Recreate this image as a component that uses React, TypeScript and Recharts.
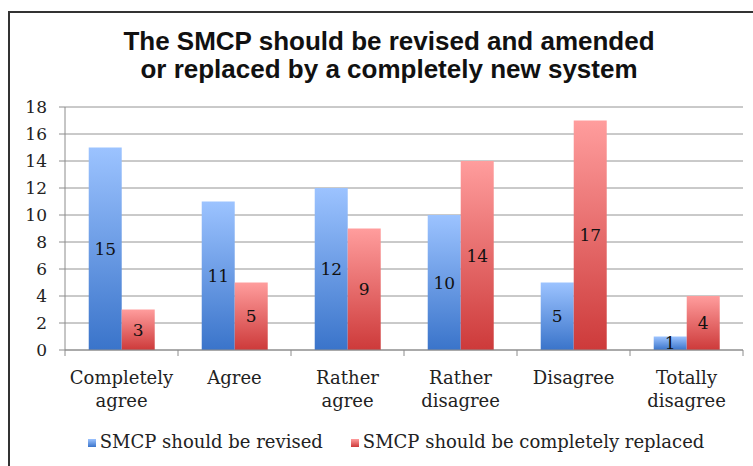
import { BarChart, Bar, XAxis, YAxis, CartesianGrid, Legend, LabelList } from 'recharts'

// answers per category
const categories = ['Completely agree', 'Agree', 'Rather agree', 'Rather disagree', 'Disagree', 'Totally disagree']
const tickLines = [['Completely', 'agree'], ['Agree'], ['Rather', 'agree'], ['Rather', 'disagree'], ['Disagree'], ['Totally', 'disagree']]
const revised = [15, 11, 12, 10, 5, 1]
const replaced = [3, 5, 9, 14, 17, 4]
const yTicks = [0, 2, 4, 6, 8, 10, 12, 14, 16, 18]
const seriesOrder = ['revised', 'replaced']

const data = categories.map((c, i) => ({
  name: c,
  revised: revised[i],
  replaced: replaced[i],
}))

const serif = '"DejaVu Serif", serif'

function CategoryTick(props: any) {
  const { x, y, payload, index } = props
  const half = payload.offset ?? 56.5
  const lines = tickLines[index] || [payload.value]
  return (
    <g>
      <line x1={x - half} x2={x - half} y1={y} y2={y + 6} stroke="#8c8c8c" />
      {index === categories.length - 1 && (
        <line x1={x + half} x2={x + half} y1={y} y2={y + 6} stroke="#8c8c8c" />
      )}
      {lines.map((l: string, i: number) => (
        <text key={i} x={x} y={y + 34 + i * 23} textAnchor="middle" fill="#222" fontSize={18} fontFamily={serif}>
          {l}
        </text>
      ))}
    </g>
  )
}

export default function App() {
  return (
    <div style={{ position: 'absolute', left: 0, top: 0, width: 753, height: 466, background: '#fff', overflow: 'hidden' }}>
      <div
        style={{
          position: 'absolute',
          left: 8,
          top: 11,
          width: 760,
          height: 470,
          borderLeft: '2px solid #333',
          borderTop: '2px solid #333',
        }}
      />
      <div
        style={{
          position: 'absolute',
          left: 25,
          top: 27,
          width: 728,
          textAlign: 'center',
          fontFamily: '"Liberation Sans", Arial, sans-serif',
          fontWeight: 'bold',
          fontSize: 26,
          lineHeight: '28px',
          color: '#111',
        }}
      >
        The SMCP should be revised and amended
        <br />
        or replaced by a completely new system
      </div>
      <BarChart
        width={753}
        height={466}
        data={data}
        margin={{ top: 107, right: 10, left: 5, bottom: 14 }}
        barCategoryGap="21%"
        barGap={0}
        style={{ position: 'absolute', left: 0, top: 0, fontFamily: serif }}
      >
        <defs>
          <linearGradient id="gBlue" x1="0" y1="0" x2="0" y2="1">
            <stop offset="0%" stopColor="#9cc3ff" />
            <stop offset="100%" stopColor="#3a74ca" />
          </linearGradient>
          <linearGradient id="gRed" x1="0" y1="0" x2="0" y2="1">
            <stop offset="0%" stopColor="#ff9d9d" />
            <stop offset="100%" stopColor="#cd3a3a" />
          </linearGradient>
        </defs>
        <CartesianGrid vertical={false} stroke="#949494" />
        <XAxis
          dataKey="name"
          stroke="#8c8c8c"
          tickLine={false}
          tickSize={0}
          tickMargin={0}
          height={81}
          interval={0}
          tick={<CategoryTick />}
        />
        <YAxis
          domain={[0, 18]}
          ticks={yTicks}
          width={60}
          stroke="#8c8c8c"
          tickSize={6}
          tickMargin={12}
          tick={{ fill: '#222', fontSize: 17, fontFamily: serif }}
        />
        <Legend
          verticalAlign="bottom"
          iconType="square"
          iconSize={8}
          itemSorter={(item: any) => seriesOrder.indexOf(item.dataKey)}
          wrapperStyle={{ paddingLeft: 36, fontFamily: serif, fontSize: 18 }}
          formatter={(v) => <span style={{ color: '#222', marginRight: 18 }}>{v}</span>}
        />
        <Bar dataKey="revised" name="SMCP should be revised" fill="url(#gBlue)" isAnimationActive={false}>
          <LabelList dataKey="revised" position="center" fill="#111" fontSize={17} fontFamily={serif} />
        </Bar>
        <Bar dataKey="replaced" name="SMCP should be completely replaced" fill="url(#gRed)" isAnimationActive={false}>
          <LabelList dataKey="replaced" position="center" fill="#111" fontSize={17} fontFamily={serif} />
        </Bar>
      </BarChart>
    </div>
  )
}
